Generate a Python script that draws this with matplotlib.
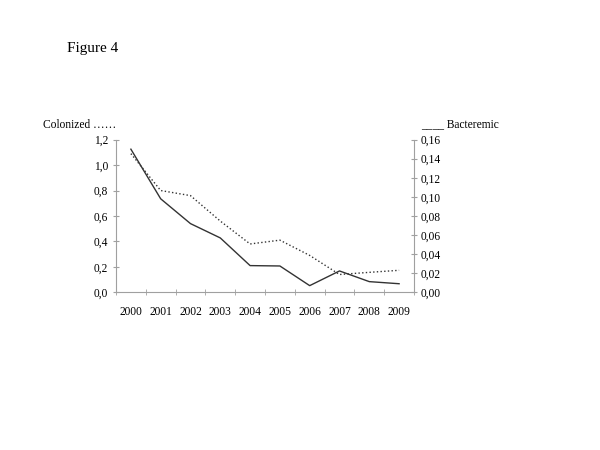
import matplotlib
matplotlib.use("Agg")
import matplotlib.pyplot as plt
import numpy as np

years = ["2000", "2001", "2002", "2003", "2004", "2005", "2006", "2007", "2008", "2009"]
# left axis: colonized (dotted)
colonized = [1.09, 0.80, 0.76, 0.56, 0.38, 0.41, 0.29, 0.14, 0.157, 0.173]
# right axis: bacteremic (solid)
bacteremic = [0.150, 0.098, 0.072, 0.057, 0.028, 0.0276, 0.007, 0.0224, 0.0112, 0.009]
left_ticks = [0.0, 0.2, 0.4, 0.6, 0.8, 1.0, 1.2]
right_ticks = [0.0, 0.02, 0.04, 0.06, 0.08, 0.10, 0.12, 0.14, 0.16]

plt.rcParams['font.family'] = ['Liberation Serif', 'DejaVu Serif']
plt.rcParams['font.size'] = 8.3
grey = '#a0a0a0'

fig = plt.figure(figsize=(6, 4.5), dpi=100)
ax = fig.add_axes([0.1933, 0.3504, 0.4967, 0.3393])
ax2 = ax.twinx()

x = np.arange(len(years))
ax.plot(x, colonized, color='#333333', linestyle=':', linewidth=1.0)
ax2.plot(x, bacteremic, color='#333333', linestyle='-', linewidth=1.0)

ax.set_xlim(-0.5, len(years) - 0.5)
ax.set_ylim(0, 1.2)
ax2.set_ylim(0, 0.16)

ax.set_yticks(left_ticks)
ax.set_yticklabels([("%.1f" % v).replace('.', ',') for v in left_ticks])
ax2.set_yticks(right_ticks)
ax2.set_yticklabels([("%.2f" % v).replace('.', ',') for v in right_ticks])

ax.set_xticks(x)
ax.set_xticklabels(years)
ax.set_xticks(np.arange(-0.5, len(years), 1.0), minor=True)
ax.tick_params(axis='x', which='major', length=0, pad=10)
ax.tick_params(axis='x', which='minor', length=4.5, direction='inout', color=grey)
ax.tick_params(axis='y', length=4.5, direction='inout', color=grey, pad=3.3)
ax2.tick_params(axis='y', length=4.5, direction='inout', color=grey, pad=2.5)

for a in (ax, ax2):
    a.spines['top'].set_visible(False)
    for s in ('left', 'right', 'bottom'):
        a.spines[s].set_color(grey)
        a.spines[s].set_linewidth(0.8)
ax.spines['right'].set_visible(False)
ax2.spines['left'].set_visible(False)
ax2.spines['bottom'].set_visible(False)

fig.text(0.112, 0.893, "Figure 4", fontsize=11, va='center')
fig.text(0.071, 0.723, "Colonized ……", fontsize=8.3, va='center')
fig.text(0.701, 0.723, "____ Bacteremic", fontsize=8.3, va='center')

fig.savefig("out.png", dpi=100)
